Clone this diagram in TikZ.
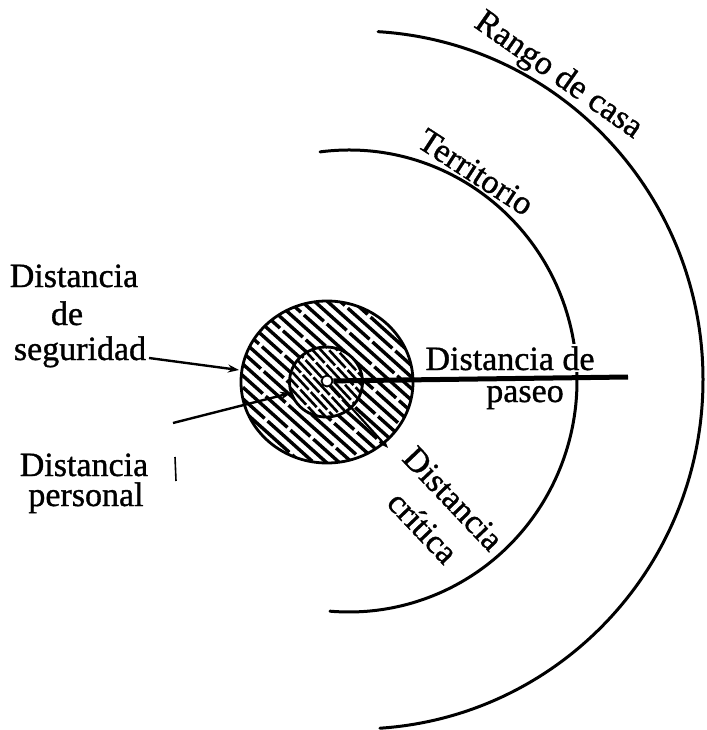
\documentclass[tikz,border=0pt]{standalone}
\usepackage{fontspec}
\setmainfont{Liberation Serif}[FakeBold=1]
\usetikzlibrary{arrows.meta}
\tikzset{
  arcline/.style={line width=3pt, line cap=round, line join=round},
  ringline/.style={line width=2.8pt},
  hatchA/.style={line width=3.4pt},
  hatchB/.style={line width=2.6pt},
  lbl/.style={font=\fontsize{34}{42}\selectfont, inner sep=0pt},
  ptr/.style={line width=2.4pt, -{Stealth[length=11pt,width=8pt]}},
}
\begin{document}
\begin{tikzpicture}[x=1pt,y=-1pt]
\fill[white] (0,0) rectangle (706,730);
\useasboundingbox (0,0) rectangle (706,730);

% Rango de casa arc
\draw[arcline] ({357+346*cos(-86.5)},{380+349*sin(-86.5)})
  arc[start angle=-86.5, end angle=86.2, x radius=346, y radius=349];
% Territorio arc
\draw[arcline] ({349+228*cos(-97.3)},{381+231*sin(-97.3)})
  arc[start angle=-97.3, end angle=94.8, x radius=228, y radius=231];

% outer hatched disc
\begin{scope}
\clip (327,382) ellipse [x radius=86, y radius=81];
\foreach \i in {-12,...,12}{
  \pgfmathsetmacro\ph{mod(\i*23+600,64)}
  \draw[hatchA, dash pattern=on 60pt off 4pt, dash phase=\ph pt]
    ({327-\i*8.6*sin(42)-130*cos(42)},{382+\i*8.6*cos(42)-130*sin(42)}) -- ++({260*cos(42)},{260*sin(42)});
}
\end{scope}
% inner hatched disc
\fill[white] (326,382) ellipse [x radius=36.5, y radius=35];
\begin{scope}
\clip (326,382) ellipse [x radius=36.5, y radius=35];
\foreach \i in {-8,...,8}{
  \pgfmathsetmacro\ph{mod(\i*9+240,27)}
  \draw[hatchB, dash pattern=on 24pt off 3pt, dash phase=\ph pt]
    ({326-\i*6*sin(47)-60*cos(47)},{382+\i*6*cos(47)-60*sin(47)}) -- ++({120*cos(47)},{120*sin(47)});
}
\end{scope}
\draw[ringline] (327,382) ellipse [x radius=86, y radius=81];
\draw[ringline] (326,382) ellipse [x radius=36.5, y radius=35];

% labels
\node[lbl, anchor=base] (seg1) at (74,287) {Distancia};
\node[lbl, anchor=base] (seg2) at (67,325) {de};
\node[lbl, anchor=base] (seg3) at (80,360) {seguridad};
\node[lbl, anchor=base] (per1) at (84,476) {Distancia};
\node[lbl, anchor=base] (per2) at (86,506) {personal};
\node[lbl, anchor=base, fill=white, inner sep=2pt] (pas1) at (510,370) {Distancia de};
\node[lbl, anchor=base] (pas2) at (525,402) {paseo};
\node[lbl, rotate=-33] (terr) at (476,172) {Territorio};
\node[lbl, rotate=-35] (rango) at (558,76) {Rango de casa};
\node[lbl, rotate=-46.5, align=center] (crit) at (438,513) {Distancia\\crítica};

% pointers
\coordinate (segA) at (149,358);
\coordinate (segB) at (239,370);
\draw[ptr] (segA) -- (segB);
\coordinate (perA) at (173,423);
\coordinate (perB) at (291,393);
\draw[ptr] (perA) -- (perB);

% centre and radii
\node[circle, draw, line width=1.8pt, fill=white, minimum size=11pt, inner sep=0pt] (ctr) at (327,381) {};
\coordinate (pasE) at (628,377);
\draw[line width=5pt] (ctr) -- (pasE);
\coordinate (critE) at (388,448);
\draw[line width=2.2pt, -{Stealth[length=8pt,width=6pt]}] (ctr) -- (critE);

% stray tick
\coordinate (tickA) at (175,457);
\coordinate (tickB) at (176,481);
\draw[line width=1.6pt] (tickA) -- (tickB);
\end{tikzpicture}
\end{document}
